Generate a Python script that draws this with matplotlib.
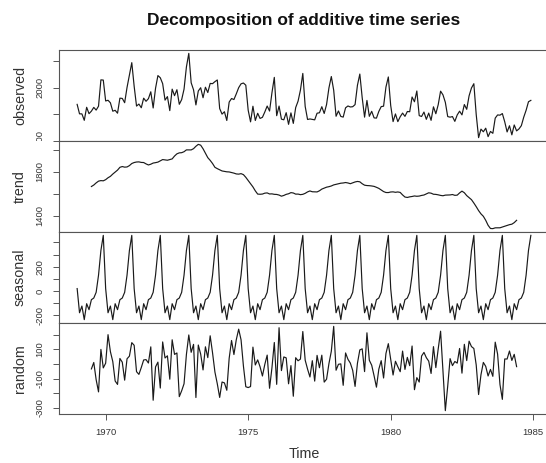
import numpy as np
import matplotlib
matplotlib.use('Agg')
import matplotlib.pyplot as plt
from matplotlib.transforms import Bbox, TransformedBbox

plt.rcParams['font.family'] = ['Liberation Sans', 'DejaVu Sans']

start_year = 1969
freq = 12
observed = [
1687,1508,1507,1385,1632,1511,1559,1630,1579,1653,2152,2148,
1752,1765,1717,1558,1575,1520,1805,1800,1719,2008,2242,2478,
2030,1655,1693,1623,1805,1746,1795,1926,1619,1992,2233,2192,
2080,1768,1835,1569,1976,1853,1965,1689,1778,1976,2397,2654,
2097,1963,1677,1941,2003,1813,2012,1912,2084,2080,2118,2150,
1608,1503,1548,1382,1731,1798,1779,1887,2004,2077,2092,2051,
1577,1356,1652,1382,1519,1421,1442,1543,1656,1561,1905,2199,
1473,1655,1407,1395,1530,1309,1526,1327,1627,1748,1958,2274,
1648,1401,1411,1403,1394,1520,1528,1643,1515,1685,2000,2215,
1956,1462,1563,1459,1446,1622,1657,1638,1643,1683,2050,2262,
1813,1445,1762,1461,1556,1431,1427,1554,1645,1653,2016,2207,
1665,1361,1506,1360,1453,1522,1460,1552,1548,1827,1737,1941,
1474,1458,1542,1404,1522,1385,1641,1510,1681,1938,1868,1726,
1456,1445,1456,1365,1487,1558,1488,1684,1594,1850,1998,2079,
1494,1057,1218,1168,1236,1076,1174,1139,1427,1487,1483,1513,
1357,1165,1282,1110,1297,1185,1222,1284,1444,1575,1737,1763]

# trend: Jul 1969 .. Jun 1984
trend = [
1665.3,1678.7,1698.2,1714.1,1719.0,1717.0,1727.6,1744.9,1757.8,1778.5,1797.0,1814.5,1839.8,1846.8,1841.3,
1843.0,1855.2,1874.3,1883.3,1888.1,1889.2,1884.3,1883.3,1871.0,1861.2,1868.0,1878.6,1882.2,1887.1,1898.7,
1910.2,1907.5,1904.2,1910.2,1916.3,1942.4,1962.4,1971.2,1972.8,1981.7,1998.3,1997.8,1998.0,2009.3,2031.3,
2048.4,2041.1,2008.5,1967.1,1927.6,1903.0,1874.4,1839.8,1827.8,1817.5,1806.7,1802.3,1798.9,1797.7,1792.5,
1787.0,1779.6,1777.8,1782.2,1773.3,1748.8,1719.0,1690.7,1661.8,1625.8,1596.5,1594.9,1596.7,1604.9,1607.1,
1597.5,1598.5,1594.2,1593.1,1587.6,1577.4,1584.0,1594.0,1599.3,1609.7,1606.4,1596.0,1596.5,1591.2,1594.3,
1603.2,1616.4,1624.9,1617.6,1616.8,1616.0,1626.4,1641.8,1650.7,1659.3,1663.8,1670.2,1679.9,1685.0,1690.2,
1695.4,1697.4,1701.5,1697.5,1690.8,1698.4,1706.7,1711.4,1708.0,1690.5,1677.4,1674.0,1672.8,1670.2,1666.5,
1658.0,1648.3,1634.2,1619.3,1610.8,1610.3,1615.5,1616.7,1612.6,1615.8,1611.5,1588.8,1569.7,1565.8,1571.3,
1574.7,1579.4,1576.5,1578.4,1584.2,1588.0,1598.1,1608.2,1604.7,1595.0,1593.7,1589.6,1584.4,1581.3,1587.0,
1587.9,1588.8,1592.4,1585.1,1586.8,1607.0,1623.2,1608.7,1582.6,1564.5,1545.8,1515.2,1482.1,1446.3,1416.6,
1394.5,1358.0,1312.9,1283.6,1282.4,1289.6,1289.8,1290.0,1297.0,1303.6,1311.6,1318.4,1322.8,1337.0,1358.0]

# seasonal figure, Jan .. Dec
seasonal_figure = [19.64, -179.86, -124.53, -236.53, -105.16, -154.34,
                   -72.03, -58.43, -11.19, 130.14, 333.90, 458.40]

# random: Jul 1969 .. Jun 1984
random_part = [
-34.3,9.7,-108.0,-191.3,99.1,-27.4,4.8,199.9,83.7,16.1,-116.8,-140.2,37.2,11.6,-111.1,34.9,52.9,145.3,127.1,-53.2,
-71.6,-24.8,26.9,29.3,5.9,116.5,-248.4,-20.4,12.0,-165.1,150.1,40.4,55.3,-104.6,164.8,64.9,74.7,-223.8,-183.6,-135.8,
64.8,197.8,79.3,133.6,-229.8,129.1,67.0,-41.2,116.9,42.8,192.1,75.5,-55.6,-136.2,-229.1,-123.8,-129.8,-180.3,38.5,159.9,
64.0,165.8,237.4,164.7,-15.2,-156.2,-161.7,-154.8,114.7,-7.3,27.6,-19.6,-82.7,-3.4,60.1,-166.6,-27.4,146.3,-139.7,247.3,
-45.8,47.6,41.2,-136.0,-11.7,-221.0,42.2,21.4,32.9,221.3,25.2,-35.6,-89.4,21.9,-117.6,58.3,-26.4,59.6,-124.5,-104.5,
2.3,86.4,256.5,-43.2,-2.6,0.1,-146.3,74.9,31.6,5.6,-44.2,-153.9,4.7,95.6,102.9,-52.6,212.5,24.7,-9.0,-81.1,
-159.0,-35.9,22.0,-96.4,71.3,138.3,29.9,-75.9,17.9,-19.3,-53.3,87.6,-37.7,44.6,-12.1,122.2,-176.3,-93.9,-124.0,53.7,
78.6,42.4,19.0,-65.4,118.0,-25.3,102.6,223.5,-47.2,-319.4,-151.5,36.1,-11.8,16.5,5.3,105.4,-63.2,133.8,22.6,155.4,
118.3,105.4,-7.7,-209.4,-74.1,10.0,-16.8,-82.6,-37.6,-85.0,148.6,67.0,-140.9,-242.4,33.8,33.2,88.2,23.8,65.2,-18.7]

panel_names = ['observed', 'trend', 'seasonal', 'random']
tick_values = [[1000, 1500, 2000, 2500], [1400, 1600, 1800, 2000],
               [-200, -100, 0, 100, 200, 300, 400], [-300, -200, -100, 0, 100, 200]]
tick_texts = [['1000', '', '2000', ''], ['1400', '', '1800', ''],
              ['-200', '', '0', '', '200', '', ''], ['-300', '', '-100', '', '100', '']]
x_ticks = [1970, 1975, 1980, 1985]

n = len(observed)
t_all = start_year + np.arange(n) / freq
t_mid = t_all[6:n - 6]
seasonal = np.tile(seasonal_figure, n // freq)

W, H = 546, 463
fig = plt.figure(figsize=(W / 100, H / 100), dpi=100)
fig.patch.set_facecolor('white')
left_px, right_px = 59, 549
tops = [50, 141, 232, 323]
ph = 91
series = [(t_all, observed), (t_mid, trend), (t_all, seasonal), (t_mid, random_part)]

pad = 0.04 * (t_all[-1] - t_all[0])
xlim = (t_all[0] - pad, t_all[-1] + pad)
frame_col = '#555555'
text_col = '#333333'

for i, top in enumerate(tops):
    ax = fig.add_axes([left_px / W, 1 - (top + ph) / H, (right_px - left_px) / W, ph / H])
    tx, ty = series[i]
    ax.plot(tx, ty, color='#1a1a1a', lw=0.85)
    ax.set_xlim(*xlim)
    lo, hi = float(np.min(ty)), float(np.max(ty))
    r = hi - lo
    ax.set_ylim(lo - 0.04 * r, hi + 0.04 * r)
    ax.set_yticks(tick_values[i])
    ax.set_yticklabels(tick_texts[i], rotation=90, va='center', fontsize=6.8, color=text_col)
    ax.tick_params(axis='y', direction='out', length=4.3, width=0.7, color=frame_col, pad=6)
    ax.set_ylabel(panel_names[i], fontsize=10.3, color=text_col)
    ax.yaxis.set_label_coords((27 - left_px) / (right_px - left_px), 0.5)
    for s in ax.spines.values():
        s.set_color(frame_col)
        s.set_linewidth(0.8)
    if i == 0:
        # the lowest label of the top panel is cut at the panel's lower edge
        clip = TransformedBbox(Bbox.from_extents(-0.5, 0, 1, 1.6), ax.transAxes)
        for lbl in ax.get_yticklabels():
            lbl.set_clip_box(clip)
            lbl.set_clip_on(True)
    if i < 3:
        ax.set_xticks([])
    else:
        ax.set_xticks(x_ticks)
        ax.set_xticklabels([str(v) for v in x_ticks], fontsize=6.8, color=text_col)
        ax.tick_params(axis='x', direction='out', length=4.3, width=0.7, color=frame_col, pad=5.5)
        ax.set_xlabel('Time', fontsize=10.3, color=text_col, va='center')
        ax.xaxis.set_label_coords(0.5, (414 - 454) / ph)

fig.text(304 / W, 1 - 20 / H, 'Decomposition of additive time series',
         ha='center', va='center', fontsize=12.5, fontweight='bold', color='#111111')

fig.savefig('out.png', dpi=100, facecolor='white')
